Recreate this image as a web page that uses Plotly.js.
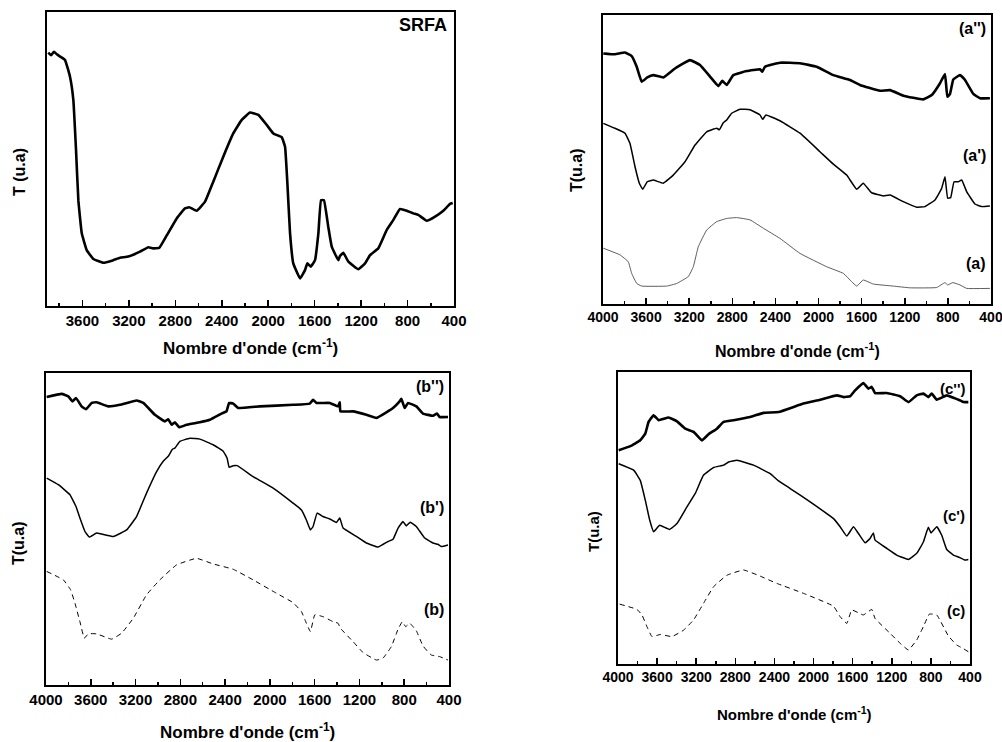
<!DOCTYPE html>
<html>
<head>
<meta charset="utf-8">
<script src="https://cdn.plot.ly/plotly-3.0.1.min.js"></script>
<style>html,body{margin:0;padding:0;background:#fff;}#chart{width:1002px;height:742px;}</style>
</head>
<body>
<div id="chart"></div>
<script>
// ---------- DATA (wavenumber cm-1, transmittance in arbitrary units 0-100) ----------
// Panel 1 : SRFA
const wnSRFA = [3894,3870,3845,3820,3790,3750,3707,3678,3655,3635,3606,3563,3506,3420,3334,3276,3205,3104,3033,2990,2938,2874,2788,2717,2680,2616,2544,2473,2387,2301,2228,2157,2085,2013,1956,1884,1855,1835,1812,1784,1726,1683,1663,1634,1597,1568,1545,1520,1483,1453,1396,1382,1353,1310,1224,1166,1123,1052,979,922,865,807,750,707,635,563,492,434,411];
const tSRFA  = [86.2,85.3,86.5,85.6,84.8,83.7,78,70,53,36,24.8,19,16,14.7,15.6,16.4,16.8,18.5,20,19.6,19.8,24,29.8,33.2,33.6,32.4,35.5,42.3,50.8,58.7,63.3,65.8,65,61.6,58.7,57.4,54.2,41.8,24.8,14.5,9.4,12.2,14.5,13.4,15.6,24.7,36,36,27,20.2,15.6,17,18.1,15.1,12.5,14.5,17.3,19.6,25.9,29.3,33,32.4,31.5,31,29,30.4,32.4,34.7,35];

// Panel 2 : (a''), (a'), (a)
const wnA2 = [3997,3889,3796,3734,3687,3641,3589,3533,3440,3332,3193,3100,3007,2930,2893,2852,2791,2667,2543,2522,2497,2358,2172,2017,1863,1708,1616,1430,1337,1214,1028,950,873,827,805,780,750,687,641,564,502,410];
const tA2  = [86.7,86.4,87,85.8,82.1,76.9,78.4,79.2,78.4,81.5,84.4,82.7,78.7,75.4,77.2,75.8,79.2,80.6,81.2,80.4,82.1,83.5,83.3,82.1,79.2,77.5,75.8,73.8,74,72.1,70.8,72.3,76.4,79.6,71.7,72.7,77.7,79.2,77.5,72.7,71.2,71.2];
const wnA1 = [3997,3889,3796,3750,3703,3663,3632,3589,3533,3441,3348,3239,3146,3038,2945,2920,2884,2852,2806,2729,2636,2543,2518,2488,2358,2172,1987,1863,1739,1646,1585,1508,1399,1337,1214,1090,1013,920,858,827,802,774,743,703,672,626,549,487,410];
const tA1  = [62.5,60.8,59.1,55.6,47.5,41.8,39.7,42.3,42.9,41.8,44.6,49.2,55,59.6,60.8,60.3,62.7,63.7,66,67.4,67.2,65.4,63.9,65.4,63.4,59.1,52.7,48.4,44.6,39.7,41.8,38.5,37.4,37.7,35.4,33.5,33.7,36,40,44,36.6,36.8,42.3,42.3,42.9,38.9,34.6,33.7,33.9];
const wnA0 = [3997,3842,3765,3734,3687,3641,3409,3316,3208,3162,3116,3038,2945,2852,2760,2636,2512,2358,2172,1925,1770,1692,1646,1585,1492,1307,1152,904,827,802,755,688,626,410];
const tA0  = [19.3,17,14.6,10.6,7.1,6.2,6.2,7.1,9.5,12.9,19.8,25.6,28.5,29.6,29.9,29.1,26.2,22.7,17.5,12.9,10.6,7.7,6.2,8.3,6.9,6.2,5.6,5.7,7.4,6.6,7.4,6.6,5.4,5.4];

// Panel 3 : (b''), (b'), (b)
const wnB2 = [3994,3860,3801,3762,3732,3682,3643,3592,3548,3444,3340,3191,3131,3027,2938,2908,2878,2849,2810,2745,2626,2536,2432,2388,2364,2328,2284,2090,1793,1644,1614,1584,1465,1391,1376,1370,1257,1138,1049,960,900,841,826,796,766,692,632,543,507,484,409];
const tB2  = [92.3,93.3,92.5,90.9,92,89.3,88.4,90.4,90.6,89.3,89.8,91.2,90.4,86.6,84.5,85.2,83.4,84.2,82.6,83.4,84.2,85,87,87.7,90.4,90.2,88.8,89.3,89.8,90.2,91.4,90.4,90.4,89.3,90.6,87.7,87.7,86.6,85.6,87.4,88.8,90.9,91.7,88.8,90.4,89.3,87,86.3,87,85.9,85.9];
const wnB1 = [3994,3890,3786,3732,3697,3652,3613,3548,3399,3280,3191,3102,3012,2953,2908,2870,2849,2804,2715,2626,2507,2417,2382,2364,2328,2292,2150,1971,1793,1718,1674,1638,1614,1578,1525,1465,1406,1376,1346,1227,1138,1034,944,900,855,811,781,746,692,617,543,499,469,409];
const tB1  = [66.3,64.2,61,57.2,53.5,49.2,47.4,48.7,47.6,49.7,54,61.5,68.4,71.7,73.3,75.6,75.9,78.1,79.1,78.8,77,74.9,72.7,69.8,70.3,70.3,66.8,63.1,58.3,56.1,52.9,49.7,50.8,55.1,54,53.2,52.1,53.5,50.3,47.6,45.5,44.2,46,46.7,50.3,52.4,51,52.2,50.8,47.1,45.5,45.1,44.4,44.9];
const wnB0 = [3994,3845,3780,3741,3697,3658,3622,3548,3414,3325,3220,3102,2983,2834,2655,2507,2328,2150,1941,1793,1718,1674,1638,1599,1525,1436,1391,1370,1257,1168,1049,990,915,855,817,787,751,692,632,558,484,409];
const tB0  = [36.4,33.7,30.5,26.2,20.3,15,16.4,16.4,14.7,16.6,21.4,28.9,33.7,38.5,40.6,38.8,37.1,33.7,29.4,26.4,23.5,19.8,17.1,22.5,21.9,20.3,19.8,18.2,13.9,10.4,8,8.6,12.3,17.9,20.3,18.7,19.8,17.4,12.5,9.6,9.1,8];

// Panel 4 : (c''), (c'), (c)
const wnC2 = [3993,3874,3772,3721,3687,3636,3584,3482,3397,3312,3227,3142,3074,2988,2920,2818,2648,2512,2358,2103,1933,1762,1694,1626,1575,1490,1439,1405,1371,1251,1115,1030,945,877,826,792,740,638,570,502,468,417];
const tC2  = [73.2,74.6,76.6,78.9,82.9,85.2,83.5,84.4,83.1,80.6,79.5,76.6,78.7,80.6,82.9,83.5,84.6,86,86.3,89.2,90.5,92,91.4,91.7,93.7,96.2,94.3,94.9,92.8,92.8,91.7,89.7,92,92.6,91.4,92.6,90.5,92,91.2,90.3,89.7,89.7];
const wnC1 = [3993,3840,3772,3721,3676,3636,3574,3472,3397,3295,3210,3125,3022,2920,2869,2784,2614,2443,2358,2239,2035,1796,1728,1660,1592,1541,1473,1422,1388,1371,1251,1149,1030,945,877,826,798,740,689,638,570,509,451,417];
const tC1  = [68.6,66.4,62.9,56.1,49.3,45.3,47.5,46.1,48.1,53.8,58.4,64.7,67.3,68.1,69.2,69.8,68.1,65.2,62.7,60.1,55.5,49.8,47,43.8,47,44.7,41.5,43,44.9,42.4,39.6,37.3,35.8,37.9,41.8,46.8,44.9,47,44.1,39.2,37.3,36.5,35.6,35.8];
const wnC0 = [3983,3806,3755,3704,3653,3567,3448,3329,3227,3125,3022,2886,2716,2546,2375,2103,1796,1728,1660,1609,1490,1405,1371,1217,1115,1030,945,877,815,740,621,536,475,417];
const tC0  = [20.5,18.7,16.8,12.8,9.4,10.1,9.4,11.6,15.1,20.8,26.5,30.4,32.2,30.1,27.6,24.2,19.8,16.2,13.9,18.5,16.8,18.7,15.6,10.5,7.1,4.8,8.2,12.8,17.1,16.8,9.6,6.5,5.4,4.2];

// ---------- TEXT ----------
const xTitle = "Nombre d'onde (cm<sup>-1</sup>)";
const labelsA = ["(a'')", "(a')", "(a)"];
const labelsB = ["(b'')", "(b')", "(b)"];
const labelsC = ["(c'')", "(c')", "(c)"];

// ---------- LAYOUT HELPERS ----------
const W = 1002, H = 742;
const FONT = "Liberation Sans, Arial, Helvetica, sans-serif";
const px = v => v / W;
const py = v => 1 - v / H;

function tr(x, y, xa, ya, width, dash, color) {
  return {x: x, y: y, xaxis: xa, yaxis: ya, type: 'scatter', mode: 'lines',
          line: {color: color || 'black', width: width, dash: dash || 'solid', shape: 'spline', smoothing: 0.3},
          hoverinfo: 'skip', showlegend: false};
}

const traces = [
  tr(wnSRFA, tSRFA, 'x', 'y', 2.6),
  tr(wnA2, tA2, 'x2', 'y2', 2.6),
  tr(wnA1, tA1, 'x2', 'y2', 1.5),
  tr(wnA0, tA0, 'x2', 'y2', 0.8, 'solid', '#333'),
  tr(wnB2, tB2, 'x3', 'y3', 2.6),
  tr(wnB1, tB1, 'x3', 'y3', 1.5),
  tr(wnB0, tB0, 'x3', 'y3', 1, '5px,4px'),
  tr(wnC2, tC2, 'x4', 'y4', 2.6),
  tr(wnC1, tC1, 'x4', 'y4', 1.5),
  tr(wnC0, tC0, 'x4', 'y4', 1, '5px,4px')
];

function xax(domain, range, fsize, anchor) {
  return {domain: domain, range: range, autorange: false, anchor: anchor,
    showline: true, linecolor: 'black', linewidth: 1.6, mirror: true,
    ticks: 'inside', ticklen: 6, tickwidth: 1.6, tickcolor: 'black',
    tick0: 400, dtick: 400, showgrid: false, zeroline: false,
    ticklabeloverflow: 'allow',
    minor: {ticks: 'inside', ticklen: 3, tickwidth: 1.5, tickcolor: 'black', dtick: 200, tick0: 400, showgrid: false},
    tickfont: {family: FONT, size: fsize, color: 'black', weight: 'bold'},
    fixedrange: true};
}
function yax(domain, anchor) {
  return {domain: domain, range: [0, 100], autorange: false, anchor: anchor,
    showline: true, linecolor: 'black', linewidth: 1.6, mirror: true,
    ticks: '', showticklabels: false, showgrid: false, zeroline: false, fixedrange: true};
}

function ann(text, x, y, size, xanchor, angle) {
  return {text: text, xref: 'paper', yref: 'paper', x: px(x), y: py(y),
    xanchor: xanchor || 'center', yanchor: 'middle', showarrow: false, textangle: angle || 0,
    font: {family: FONT, size: size, color: 'black', weight: 'bold'}};
}

const annotations = [
  ann('SRFA', 449, 25, 18, 'right'),
  ann(xTitle, 250, 347, 17),
  ann('T (u.a)', 19, 172, 16, 'center', -90),

  ann(labelsA[0], 988, 29, 16, 'right'),
  ann(labelsA[1], 988, 155, 16, 'right'),
  ann(labelsA[2], 988, 263, 16, 'right'),
  ann(xTitle, 797, 350, 16),
  ann('T(u.a)', 576, 170, 16, 'center', -90),

  ann(labelsB[0], 446, 386, 16, 'right'),
  ann(labelsB[1], 446, 507, 16, 'right'),
  ann(labelsB[2], 446, 609, 16, 'right'),
  ann(xTitle, 247, 731, 17),
  ann('T(u.a)', 18, 543, 16, 'center', -90),

  ann(labelsC[0], 967, 388, 15, 'right'),
  ann(labelsC[1], 967, 515, 15, 'right'),
  ann(labelsC[2], 967, 610, 15, 'right'),
  ann(xTitle, 794, 713, 15),
  ann('T(u.a)', 593, 532, 15, 'center', -90)
];

const layout = {
  width: W, height: H,
  margin: {l: 0, r: 0, t: 0, b: 0},
  paper_bgcolor: 'white', plot_bgcolor: 'white',
  showlegend: false,
  font: {family: FONT, color: 'black'},
  xaxis:  xax([px(47), px(454)], [3905, 400], 15, 'y'),
  yaxis:  yax([py(306), py(12)], 'x'),
  xaxis2: xax([px(603), px(991)], [4000, 400], 14, 'y2'),
  yaxis2: yax([py(304), py(15)], 'x2'),
  xaxis3: xax([px(46), px(449)], [4000, 400], 15, 'y3'),
  yaxis3: yax([py(685), py(373)], 'x3'),
  xaxis4: xax([px(618), px(970)], [4000, 400], 14, 'y4'),
  yaxis4: yax([py(664), py(372)], 'x4'),
  annotations: annotations
};

Plotly.newPlot('chart', traces, layout, {displayModeBar: false, staticPlot: true});
</script>
</body>
</html>
